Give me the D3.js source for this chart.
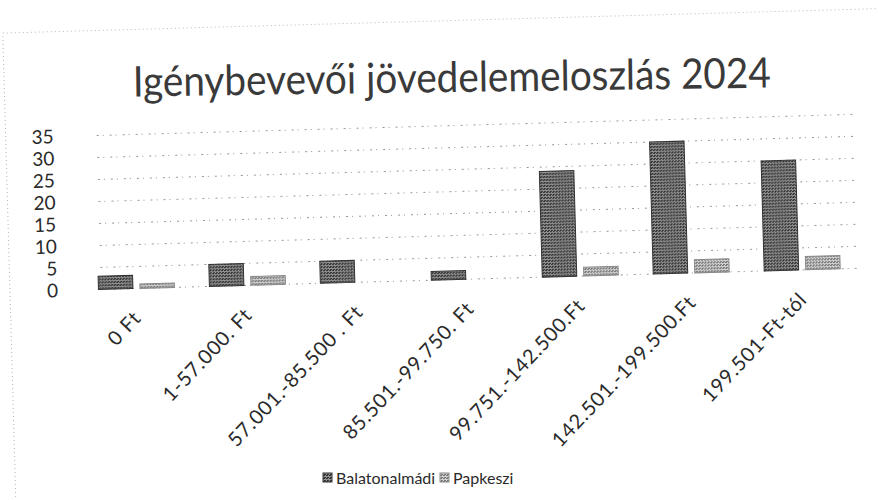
<!DOCTYPE html>
<html>
<head>
<meta charset="utf-8">
<script src="https://cdn.jsdelivr.net/npm/d3@7"></script>
<style>
  body { margin: 0; background: #fff; }
  text { font-family: Lato, "Noto Sans", sans-serif; fill: #2a2a2a; }
</style>
</head>
<body>
<div id="chart"></div>
<script>
const categories = ["0 Ft", "1-57.000. Ft", "57.001.-85.500 . Ft", "85.501.-99.750. Ft",
                    "99.751.-142.500.Ft", "142.501.-199.500.Ft", "199.501-Ft-tól"];
const seriesNames = ["Balatonalmádi", "Papkeszi"];
const balatonalmadi = [3, 5, 5, 2, 24, 30, 25];
const papkeszi = [1, 2, 0, 0, 2, 3, 3];
const yTicks = [0, 5, 10, 15, 20, 25, 30, 35];

let width = 878;
let height = 500;
let margin = ({top: 126, right: 21, bottom: 220, left: 80});

let svg = d3.select("#chart")
    .append("svg")
    .attr("width", width)
    .attr("height", height);

// halftone-ish fills, the source is a scanned print
let defs = svg.append("defs");
function dither(id, dark, light) {
    let p = defs.append("pattern")
        .attr("id", id)
        .attr("width", 3)
        .attr("height", 3)
        .attr("patternUnits", "userSpaceOnUse");
    p.append("rect").attr("width", 3).attr("height", 3).attr("fill", light);
    p.append("rect").attr("width", 2).attr("height", 1).attr("fill", dark);
    p.append("rect").attr("x", 1).attr("y", 2).attr("width", 2).attr("height", 1).attr("fill", dark);
}
dither("balPat", "#333", "#929292");
dither("papPat", "#777", "#d2d2d2");
const fills = ["url(#balPat)", "url(#papPat)"];
const strokes = ["#333", "#888"];

// whole chart slightly tilted like the scan
let g = svg.append("g").attr("transform", "rotate(-1.6, 439, 250)");

// faint chart border
g.append("rect")
    .attr("x", 9).attr("y", 21)
    .attr("width", 900).attr("height", 520)
    .attr("fill", "none")
    .attr("stroke", "#b5b5b5")
    .attr("stroke-dasharray", "1,3");

let x0 = d3.scaleBand()
    .domain(categories)
    .range([margin.left, width - margin.right])
    .paddingInner(0.315)
    .paddingOuter(0.1575);

let x1 = d3.scaleBand()
    .domain(seriesNames)
    .range([0, x0.bandwidth()])
    .paddingInner(0.17);

let y = d3.scaleLinear()
    .domain([0, 35])
    .range([height - margin.bottom, margin.top]);

// gridlines
g.append("g")
    .selectAll("line")
    .data(yTicks)
    .join("line")
    .attr("x1", margin.left + 20)
    .attr("x2", width - margin.right)
    .attr("y1", d => y(d))
    .attr("y2", d => y(d))
    .attr("stroke", "#7c7c7c")
    .attr("stroke-width", 0.8)
    .attr("stroke-dasharray", "2,4,1,6");

// y axis labels
let yAxis = d3.axisLeft(y).tickValues(yTicks).tickSize(0).tickPadding(0);
g.append("g")
    .attr("transform", "translate(57,0)")
    .call(yAxis)
    .call(s => s.select(".domain").remove())
    .selectAll("text")
    .style("font-size", "19px")
    .style("fill", "#2a2a2a");

// bars
let series = [balatonalmadi, papkeszi];
let groups = g.append("g")
    .selectAll("g")
    .data(categories)
    .join("g")
    .attr("transform", d => "translate(" + x0(d) + ",0)");

groups.selectAll("rect")
    .data((d, i) => seriesNames.map((s, k) => ({s: s, k: k, v: series[k][i]})))
    .join("rect")
    .filter(d => d.v > 0)
    .attr("x", d => x1(d.s))
    .attr("width", x1.bandwidth())
    .attr("y", d => y(d.v))
    .attr("height", d => y(0) - y(d.v))
    .attr("fill", d => fills[d.k])
    .attr("stroke", d => strokes[d.k])
    .attr("stroke-width", 1);

// x axis labels, rotated
let xAxis = d3.axisBottom(x0).tickSize(0).tickPadding(0);
g.append("g")
    .attr("transform", "translate(0," + (y(0) + 31) + ")")
    .call(xAxis)
    .call(s => s.select(".domain").remove())
    .selectAll("text")
    .style("font-size", "20px")
    .style("letter-spacing", "0.8px")
    .style("fill", "#2a2a2a")
    .attr("text-anchor", "end")
    .attr("dy", "0")
    .attr("transform", "translate(5,0) rotate(-45)");

// title
svg.append("text")
    .attr("x", 452)
    .attr("y", 92)
    .attr("text-anchor", "middle")
    .attr("transform", "rotate(-0.8, 452, 92)")
    .attr("textLength", 638)
    .attr("lengthAdjust", "spacingAndGlyphs")
    .style("font-size", "42px")
    .style("fill", "#3a3a3a")
    .text("Igénybevevői jövedelemeloszlás 2024");

// legend
let legend = svg.append("g")
    .selectAll("g")
    .data(seriesNames)
    .join("g")
    .attr("transform", (d, i) => "translate(" + [323, 440][i] + ",478)");

legend.append("rect")
    .attr("x", 0)
    .attr("y", -5)
    .attr("width", 9)
    .attr("height", 9)
    .attr("fill", (d, i) => fills[i])
    .attr("stroke", (d, i) => strokes[i]);

legend.append("text")
    .attr("x", 13)
    .attr("dy", "0.35em")
    .style("font-size", "16px")
    .text(d => d);
</script>
</body>
</html>
